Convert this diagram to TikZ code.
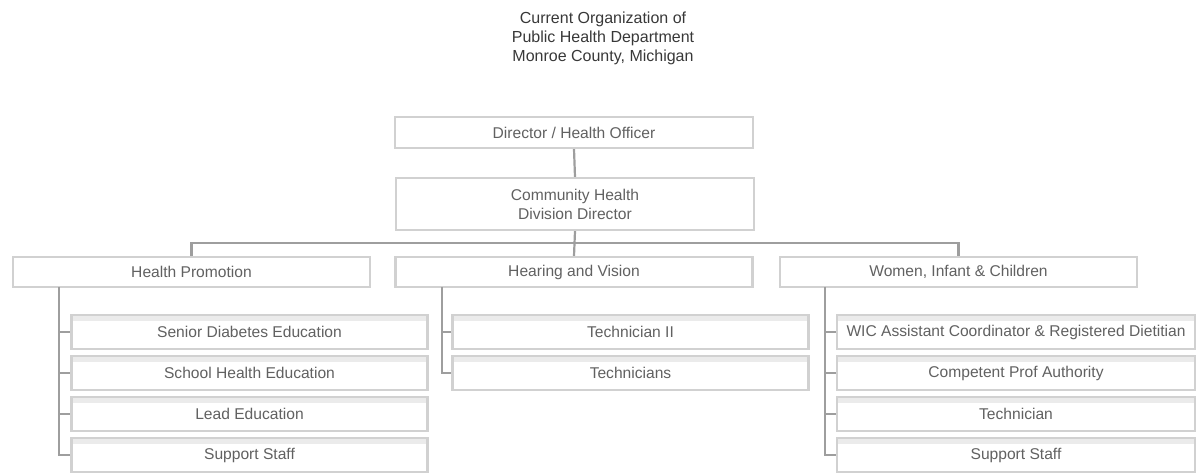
\documentclass[tikz,border=0pt]{standalone}
\usepackage{fontspec}
\setmainfont{Liberation Sans}
\usepackage{tikz}
\usetikzlibrary{positioning}
\tikzset{
	orgbox/.style={rectangle, draw=black!18, line width=1.1pt, fill=white, text=black!62, align=center, text centered, inner sep=0pt, font=\fontsize{7.8}{9.5}\selectfont},
	topbox/.style={orgbox, minimum width=179pt, minimum height=15.5pt},
	unitbox/.style={orgbox, minimum width=178.5pt, minimum height=15pt},
	staffbox/.style={orgbox, minimum width=178pt, minimum height=17pt,
		path picture={\fill[black!8] (path picture bounding box.north west) rectangle ([yshift=-3pt]path picture bounding box.north east);}},
	link/.style={draw=black!38, line width=1.1pt}
}
\begin{document}
\begin{tikzpicture}[x=0.5pt,y=-0.5pt]
	\useasboundingbox (0,0) rectangle (1199,475);
	% title
	\node (title) at (603,38) [align=center, text=black!78, font=\fontsize{8}{9.5}\selectfont]
		{Current Organization of\\Public Health Department\\Monroe County, Michigan};
	% top of the chart
	\node (dir) at (574,132.5) [topbox] {Director / Health Officer};
	\node (chd) at (575,204) [topbox, minimum height=26pt] {Community Health\\Division Director};
	\node (hp) at (191.5,272) [unitbox] {Health Promotion};
	\node (hv) at (574,272) [unitbox] {Hearing and Vision};
	\node (wic) at (958.5,272) [unitbox] {Women, Infant \& Children};
	% staff under each unit
	\node (hp1) at (249.5,332) [staffbox] {Senior Diabetes Education};
	\node (hp2) at (249.5,373) [staffbox] {School Health Education};
	\node (hp3) at (249.5,414) [staffbox] {Lead Education};
	\node (hp4) at (249.5,455) [staffbox] {Support Staff};
	\node (hv1) at (630.5,332) [staffbox] {Technician II};
	\node (hv2) at (630.5,373) [staffbox] {Technicians};
	\node (wic1) at (1016,332) [staffbox, minimum width=179pt] {WIC Assistant Coordinator \& Registered Dietitian};
	\node (wic2) at (1016,373) [staffbox, minimum width=179pt] {Competent Prof Authority};
	\node (wic3) at (1016,414) [staffbox, minimum width=179pt] {Technician};
	\node (wic4) at (1016,455) [staffbox, minimum width=179pt] {Support Staff};
	% connectors
	\coordinate (bus) at (575,243);
	\coordinate (hpbar) at (59,287);
	\coordinate (hvbar) at (442,287);
	\coordinate (wicbar) at (825,287);
	\draw[link] (dir.south) -- (chd.north);
	\draw[link] (chd.south) -- (hv.north);
	\draw[link] (hp.north) |- (bus) -| (wic.north);
	\draw[link] (hpbar) |- (hp4.west);
	\draw[link] (hpbar |- hp1.west) -- (hp1.west);
	\draw[link] (hpbar |- hp2.west) -- (hp2.west);
	\draw[link] (hpbar |- hp3.west) -- (hp3.west);
	\draw[link] (hvbar) |- (hv2.west);
	\draw[link] (hvbar |- hv1.west) -- (hv1.west);
	\draw[link] (wicbar) |- (wic4.west);
	\draw[link] (wicbar |- wic1.west) -- (wic1.west);
	\draw[link] (wicbar |- wic2.west) -- (wic2.west);
	\draw[link] (wicbar |- wic3.west) -- (wic3.west);
\end{tikzpicture}
\end{document}
